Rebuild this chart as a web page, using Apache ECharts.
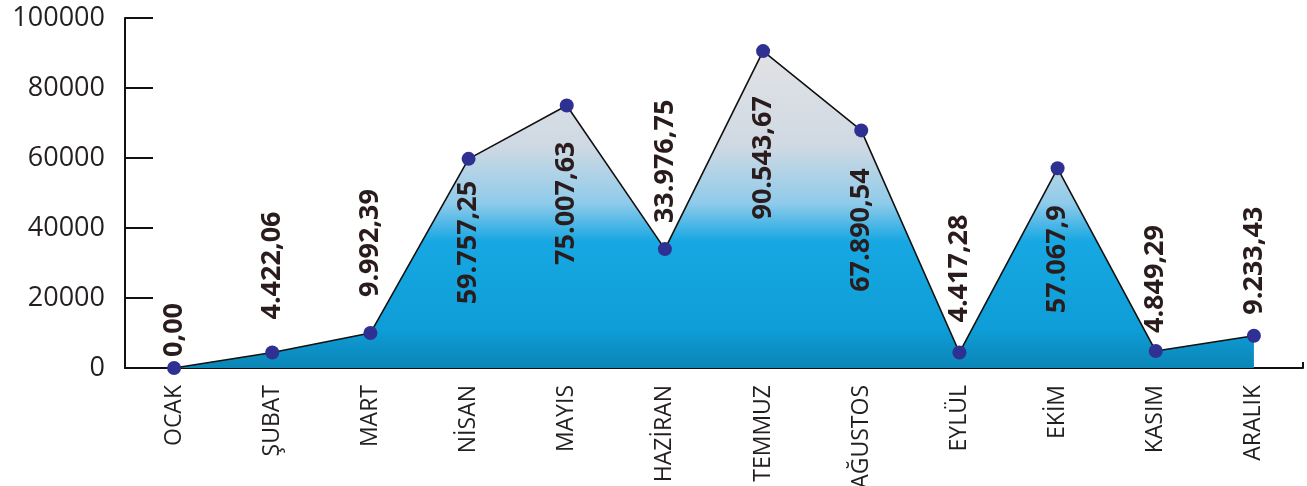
<!DOCTYPE html>
<html>
<head>
<meta charset="utf-8">
<script src="https://cdn.jsdelivr.net/npm/echarts@6/dist/echarts.min.js"></script>
<style>
  html, body { margin: 0; padding: 0; background: #fff; }
  #chart { width: 1307px; height: 486px; }
</style>
</head>
<body>
<div id="chart"></div>
<script>
// aylar
var months = ['OCAK', 'ŞUBAT', 'MART', 'NİSAN', 'MAYIS', 'HAZİRAN', 'TEMMUZ', 'AĞUSTOS', 'EYLÜL', 'EKİM', 'KASIM', 'ARALIK'];
// degerler
var values = [0, 4422.06, 9992.39, 59757.25, 75007.63, 33976.75, 90543.67, 67890.54, 4417.28, 57067.9, 4849.29, 9233.43];
// etiket metinleri
var valueTexts = ['0,00', '4.422,06', '9.992,39', '59.757,25', '75.007,63', '33.976,75', '90.543,67', '67.890,54', '4.417,28', '57.067,9', '4.849,29', '9.233,43'];
var yTicks = [0, 20000, 40000, 60000, 80000, 100000];

// etiketlerin yeri (noktanin ustu / alti)
var labelSide = ['top', 'top', 'top', 'bottom', 'bottom', 'top', 'bottom', 'bottom', 'top', 'bottom', 'top', 'top'];
var labelGap = [4, 26, 29, 15, 29, 19, 38, 31, 23, 30, 11, 14];

var chart = echarts.init(document.getElementById('chart'));

var seriesData = [];
for (var i = 0; i < values.length; i++) {
    var up = labelSide[i] == 'top';
    seriesData.push({
        value: values[i],
        label: {
            position: labelSide[i],
            distance: labelGap[i],
            rotate: 90,
            align: up ? 'left' : 'right',
            verticalAlign: 'middle',
            formatter: valueTexts[i]
        }
    });
}

var option = {
    animation: false,
    grid: { left: 125, right: 4, top: 18, bottom: 118, outerBoundsMode: 'none', containLabel: false },
    xAxis: {
        type: 'category',
        data: months,
        boundaryGap: true,
        axisLine: { lineStyle: { color: '#111', width: 2 } },
        axisTick: { show: true, inside: true, length: 6, lineStyle: { color: '#111', width: 2 } },
        axisLabel: {
            interval: 0, rotate: 90, margin: 17,
            color: '#231f20', fontSize: 23,
            fontFamily: '"Liberation Sans Narrow", "Open Sans", sans-serif'
        }
    },
    yAxis: {
        type: 'value',
        min: yTicks[0],
        max: yTicks[yTicks.length - 1],
        interval: yTicks[1] - yTicks[0],
        splitLine: { show: false },
        axisLine: { show: true, lineStyle: { color: '#111', width: 2 } },
        axisTick: { show: true, inside: true, length: 28, lineStyle: { color: '#111', width: 2 } },
        axisLabel: {
            margin: 20, color: '#231f20', fontSize: 27,
            fontFamily: '"Open Sans", sans-serif',
            formatter: function (v) { return String(v); }
        }
    },
    series: [{
        type: 'line',
        data: seriesData,
        symbol: 'circle',
        symbolSize: 14,
        itemStyle: { color: '#2e3192' },
        lineStyle: { color: '#111', width: 1.6 },
        areaStyle: {
            opacity: 1,
            color: new echarts.graphic.LinearGradient(0, 0, 0, 1, [
                { offset: 0, color: '#e2e2e6' },
                { offset: 0.3, color: '#cfd9e3' },
                { offset: 0.48, color: '#8fcbea' },
                { offset: 0.6, color: '#17a7e2' },
                { offset: 0.88, color: '#0e9dd6' },
                { offset: 1, color: '#0b85b6' }
            ])
        },
        label: {
            show: true,
            color: '#2a1c1c',
            fontSize: 27,
            fontWeight: 'bold',
            fontFamily: '"Open Sans", sans-serif'
        },
        z: 3
    }]
};
chart.setOption(option);
</script>
</body>
</html>
